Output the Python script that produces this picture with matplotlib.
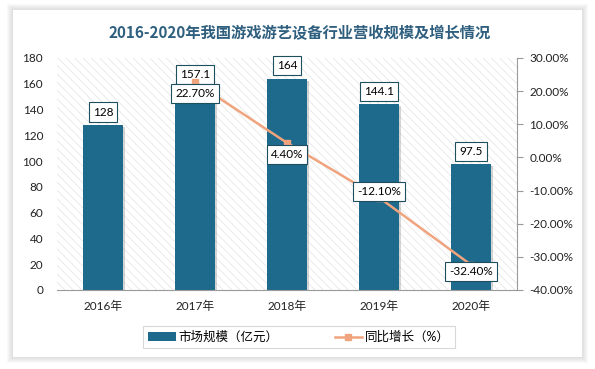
import numpy as np
import matplotlib
matplotlib.use("Agg")
import matplotlib.pyplot as plt
from matplotlib.patches import Rectangle
from matplotlib.lines import Line2D
import matplotlib.patheffects as pe
from matplotlib.ticker import FuncFormatter

plt.rcParams['font.family'] = ['Lato', 'Noto Sans CJK SC', 'DejaVu Sans']
plt.rcParams['hatch.linewidth'] = 0.5

# data
years = ["2016年", "2017年", "2018年", "2019年", "2020年"]
market_size = [128, 157.1, 164, 144.1, 97.5]          # 亿元
growth_years = [1, 2, 3, 4]                            # index into years
growth = [22.7, 4.4, -12.1, -32.4]                     # %
growth_label_dy = [-11, -12, 6, -7]                    # label offset (px) from point

BAR_C = "#1D6A8C"
LINE_C = "#F0A47E"
BOX_C = "#1F4E5F"

fig = plt.figure(figsize=(5.95, 3.69), dpi=100)
W, H = 595, 369

# card with soft shadow
for i in range(6, 0, -1):
    fig.patches.append(Rectangle(((13 - i) / W, 1 - (357 + i) / H), (569 + 2 * i) / W, (347 + 2 * i) / H,
                                 transform=fig.transFigure, facecolor="#b0b0b0", alpha=0.07,
                                 linewidth=0, zorder=0))
fig.patches.append(Rectangle((13 / W, 1 - 357 / H), 569 / W, 347 / H, transform=fig.transFigure,
                             facecolor="white", linewidth=0, zorder=1))

ax = fig.add_axes([57 / W, 1 - 290 / H, 460 / W, 232 / H])
ax.set_zorder(2)
ax.patch.set_alpha(0)
ax.add_patch(Rectangle((0, 0), 1, 1, transform=ax.transAxes, facecolor="white",
                       hatch="\\\\\\\\", edgecolor="#e2e2e2", linewidth=0, zorder=0))

x = np.arange(len(years))
bars = ax.bar(x, market_size, width=0.43, color=BAR_C, zorder=2, label="市场规模（亿元）",
              path_effects=[pe.SimplePatchShadow(offset=(1.5, -1.5), shadow_rgbFace="#888888", alpha=0.35),
                            pe.Normal()])
ax.set_xlim(-0.5, 4.5)
ax.set_ylim(0, 180)
ax.set_yticks(range(0, 181, 20))
ax.set_xticks(x)
ax.set_xticklabels(years)
ax.tick_params(axis="y", length=0, pad=10, labelsize=8.5, colors="#222222")
ax.tick_params(axis="x", length=0, pad=8, labelsize=8.5, colors="#222222")
for s in ("left", "top", "right"):
    ax.spines[s].set_visible(False)
ax.spines["bottom"].set_color("#9a9a9a")

box = dict(boxstyle="square,pad=0.35", facecolor="white", edgecolor=BOX_C, linewidth=0.8)
for xi, v in zip(x, market_size):
    ax.annotate(f"{v:g}", (xi, v), xytext=(0, 13), textcoords="offset pixels",
                ha="center", va="center", fontsize=8.5, bbox=box, zorder=5)

ax2 = ax.twinx()
ax2.set_ylim(-40, 30)
ax2.set_yticks(range(-40, 31, 10))
ax2.yaxis.set_major_formatter(FuncFormatter(lambda v, p: f"{v:.2f}%"))
ax2.tick_params(axis="y", length=4, width=0.8, color="#9a9a9a", pad=5, labelsize=8.5, labelcolor="#222222")
for s in ("left", "top", "bottom"):
    ax2.spines[s].set_visible(False)
ax2.spines["right"].set_color("#9a9a9a")
ax2.plot(growth_years, growth, color=LINE_C, lw=1.8, marker="s", ms=4, zorder=3)
for xi, v, dy in zip(growth_years, growth, growth_label_dy):
    ax2.annotate(f"{v:.2f}%", (xi, v), xytext=(0, dy), textcoords="offset pixels",
                 ha="center", va="center", fontsize=8.5, bbox=box, zorder=5)

fig.text(0.503, 1 - 33 / H, "2016-2020年我国游戏游艺设备行业营收规模及增长情况",
         ha="center", va="center", fontsize=11, fontweight="bold", color="#2F5F7F",
         family=["Noto Sans CJK SC", "DejaVu Sans"], zorder=5)

handles = [Rectangle((0, 0), 1, 1, facecolor=BAR_C),
           Line2D([], [], color=LINE_C, lw=1.8, marker="s", ms=4)]
leg = fig.legend(handles, ["市场规模（亿元）", "同比增长（%）"], loc="center",
                 bbox_to_anchor=(299 / W, 1 - 337 / H), ncol=2, fontsize=9, frameon=True,
                 fancybox=False, edgecolor="#cfcfcf", columnspacing=4.5, handlelength=2.2,
                 handletextpad=0.2, borderpad=0.4)
leg.get_frame().set_linewidth(0.8)
leg.set_zorder(5)

fig.savefig("out.png", dpi=100)
